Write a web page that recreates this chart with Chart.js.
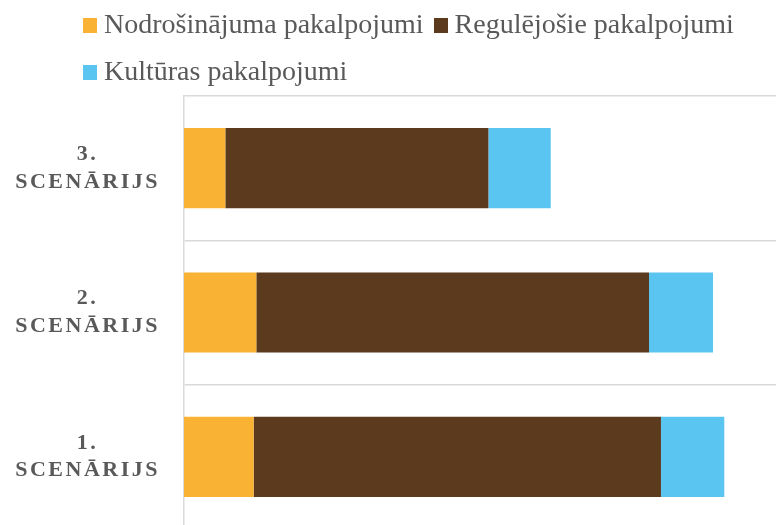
<!DOCTYPE html>
<html>
<head>
<meta charset="utf-8">
<title>Scenāriji</title>
<script src="https://cdn.jsdelivr.net/npm/chart.js"></script>
<style>
  body { margin: 0; overflow: hidden; background: #fff; }
  #wrap { position: relative; width: 776px; height: 525px; overflow: hidden; }
  #chartBox { position: absolute; left: 0; top: 0; width: 776px; height: 530px; }
  #legend {
    position: absolute; left: 83px; top: 0; width: 693px;
    display: flex; flex-wrap: wrap;
    font: 28px/47px "Liberation Serif", serif; color: #595959;
  }
  #legend .item { white-space: nowrap; margin-right: 10px; }
  #legend .box { display: inline-block; width: 14px; height: 15px; margin-right: 7px; }
</style>
</head>
<body>
<div id="wrap">
  <div id="chartBox"><canvas id="chart"></canvas></div>
  <div id="legend"></div>
</div>
<script>
// data (x axis is hidden, 0..600)
const categories = [['3.', 'SCENĀRIJS'], ['2.', 'SCENĀRIJS'], ['1.', 'SCENĀRIJS']];
const seriesNames = ['Nodrošinājuma pakalpojumi', 'Regulējošie pakalpojumi', 'Kultūras pakalpojumi'];
const nodrosinajuma = [41.9, 73.3, 70.6];
const regulejosie = [266.6, 398.0, 412.8];
const kulturas = [63.2, 64.9, 64.2];
const xMax = 600;

const colors = ['#F9B233', '#5C3A1E', '#5BC5F2'];

// canvas letter spacing for the axis labels
const letterSpacing = {
  id: 'letterSpacing',
  beforeLayout(chart) { chart.ctx.letterSpacing = '2.5px'; },
  beforeDraw(chart) { chart.ctx.letterSpacing = '2.5px'; }
};

// legend as html, built from the chart's own legend items
const htmlLegend = {
  id: 'htmlLegend',
  afterUpdate(chart) {
    const el = document.getElementById('legend');
    el.innerHTML = '';
    Chart.defaults.plugins.legend.labels.generateLabels(chart).forEach(item => {
      const span = document.createElement('span');
      span.className = 'item';
      const box = document.createElement('span');
      box.className = 'box';
      box.style.background = item.fillStyle;
      span.appendChild(box);
      span.appendChild(document.createTextNode(item.text));
      el.appendChild(span);
    });
  }
};

const ctx = document.getElementById('chart').getContext('2d');
new Chart(ctx, {
  type: 'bar',
  data: {
    labels: categories,
    datasets: [nodrosinajuma, regulejosie, kulturas].map((d, i) => ({
      label: seriesNames[i],
      data: d,
      backgroundColor: colors[i],
      borderWidth: 0
    }))
  },
  options: {
    indexAxis: 'y',
    responsive: true,
    maintainAspectRatio: false,
    animation: false,
    layout: { padding: { top: 96, bottom: 1, left: 0, right: 0 } },
    datasets: { bar: { categoryPercentage: 0.555, barPercentage: 1 } },
    scales: {
      x: { stacked: true, min: 0, max: xMax, display: false },
      y: {
        stacked: true,
        grid: { color: '#d9d9d9', lineWidth: 1.5, drawTicks: false },
        border: { color: '#d9d9d9', width: 1.5 },
        ticks: {
          crossAlign: 'center',
          padding: 24,
          color: '#595959',
          font: { family: 'Liberation Serif', size: 22, weight: 'bold', lineHeight: 1.27 }
        },
        afterFit(scale) {
          scale.width = 184;
          scale.paddingTop = 0;
          scale.paddingBottom = 0;
        }
      }
    },
    plugins: { legend: { display: false }, tooltip: { enabled: false } }
  },
  plugins: [letterSpacing, htmlLegend]
});
</script>
</body>
</html>
